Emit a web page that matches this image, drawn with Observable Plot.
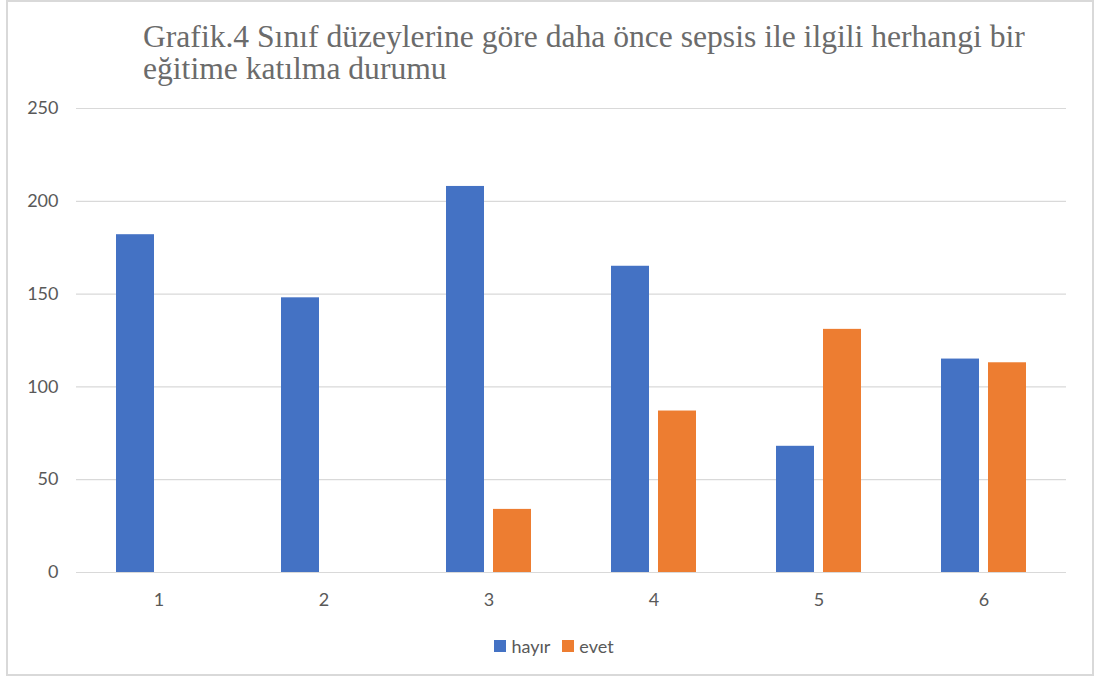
<!DOCTYPE html>
<html>
<head>
<meta charset="utf-8">
<script src="https://cdn.jsdelivr.net/npm/d3@7"></script>
<script src="https://cdn.jsdelivr.net/npm/@observablehq/plot@0.6"></script>
<style>
  html, body { margin: 0; padding: 0; background: #fff; }
  #wrap { position: relative; width: 1099px; height: 684px; overflow: hidden; }
  #box { position: absolute; left: 6px; top: 0px; width: 1088px; height: 676px; border: 2px solid #d9d9d9; box-sizing: border-box; }
  #title { position: absolute; left: 143px; top: 21px; width: 950px; white-space: nowrap; font-family: "Liberation Serif", "Times New Roman", serif; font-size: 31.6px; line-height: 32px; color: #6b6b6b; }
  #chart { position: absolute; left: 0; top: 90px; }
  #legend { position: absolute; left: 0; width: 1108px; top: 634px; text-align: center; font-family: Lato, sans-serif; font-size: 18px; color: #595959; }
  #legend span.item { display: inline-flex; align-items: center; margin: 0 6px; }
  #legend span.sw { display: inline-block; width: 12px; height: 12px; margin-right: 5px; }
</style>
</head>
<body>
<div id="wrap">
  <div id="box"></div>
  <div id="title">Grafik.4 Sınıf düzeylerine göre daha önce sepsis ile ilgili herhangi bir<br>eğitime katılma durumu</div>
  <div id="chart"></div>
  <div id="legend"></div>
</div>
<script>
const categories = ["1", "2", "3", "4", "5", "6"];
const series = ["hayır", "evet"];
const hayir = [182, 148, 208, 165, 68, 115];
const evet = [0, 0, 34, 87, 131, 113];
const yTicks = [0, 50, 100, 150, 200, 250];
const colors = ["#4472C4", "#ED7D31"];

const data = categories.flatMap((c, i) => [
  {cat: c, series: series[0], value: hayir[i]},
  {cat: c, series: series[1], value: evet[i]}
]);

const chart = Plot.plot({
  width: 1099,
  height: 530,
  marginLeft: 73,
  marginRight: 31,
  marginTop: 18,
  marginBottom: 48,
  style: {fontFamily: "Lato, sans-serif", fontSize: "18px", color: "#595959", background: "transparent"},
  fx: {domain: categories, paddingInner: 0, paddingOuter: 0, label: null, axis: "bottom", tickSize: 0, tickPadding: 21},
  x: {domain: series, paddingInner: 0.2, paddingOuter: 0.85, axis: null},
  y: {domain: [0, 250], ticks: yTicks, tickSize: 0, tickPadding: 18, label: null},
  color: {domain: series, range: colors},
  marks: [
    Plot.ruleY(yTicks, {stroke: "#d9d9d9", strokeWidth: 1.2}),
    Plot.barY(data, {fx: "cat", x: "series", y: "value", fill: "series"})
  ]
});
document.getElementById("chart").appendChild(chart);

const legend = document.getElementById("legend");
series.forEach((s, i) => {
  const item = document.createElement("span");
  item.className = "item";
  const sw = document.createElement("span");
  sw.className = "sw";
  sw.style.background = colors[i];
  item.appendChild(sw);
  item.appendChild(document.createTextNode(s));
  legend.appendChild(item);
});
</script>
</body>
</html>
